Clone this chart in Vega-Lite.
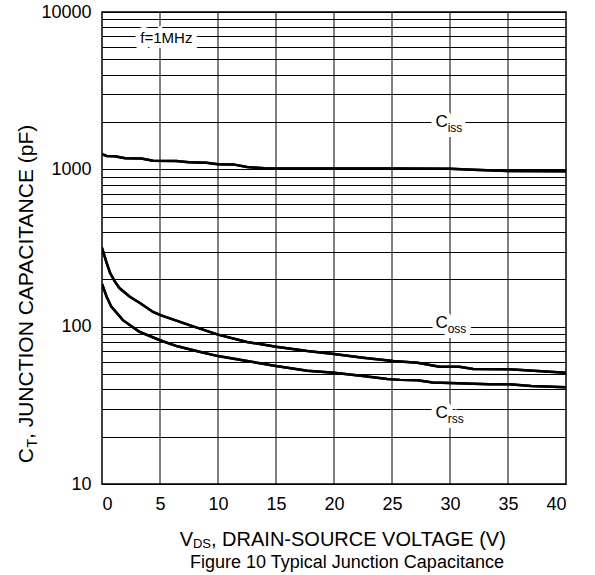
{
  "$schema": "https://vega.github.io/schema/vega-lite/v6.json",
  "width": 464,
  "height": 472,
  "autosize": {"type": "none"},
  "padding": {"left": 102, "top": 12, "right": 29, "bottom": 91},
  "background": "white",
  "config": {
    "font": "Liberation Sans",
    "view": {"stroke": "black", "strokeWidth": 1.5},
    "axis": {"gridColor": "#000000", "gridOpacity": 1, "gridWidth": 1, "ticks": false, "domain": false, "labelColor": "#000000", "labelFont": "Liberation Sans", "labelFontSize": 18, "title": null}
  },
  "datasets": {
    "vgrid": [{"g": 5}, {"g": 10}, {"g": 15}, {"g": 20}, {"g": 25}, {"g": 30}, {"g": 35}],
    "curves": [
      {"series": "Ciss", "V": 0, "C": 1250}, {"series": "Ciss", "V": 0.4, "C": 1215}, {"series": "Ciss", "V": 1.1, "C": 1210},
      {"series": "Ciss", "V": 2, "C": 1175}, {"series": "Ciss", "V": 3.4, "C": 1170}, {"series": "Ciss", "V": 4.4, "C": 1135},
      {"series": "Ciss", "V": 6.4, "C": 1130}, {"series": "Ciss", "V": 7.5, "C": 1110}, {"series": "Ciss", "V": 9, "C": 1100},
      {"series": "Ciss", "V": 10, "C": 1078}, {"series": "Ciss", "V": 11.3, "C": 1075}, {"series": "Ciss", "V": 12.5, "C": 1035},
      {"series": "Ciss", "V": 14, "C": 1015}, {"series": "Ciss", "V": 20, "C": 1012}, {"series": "Ciss", "V": 25, "C": 1012},
      {"series": "Ciss", "V": 30, "C": 1010}, {"series": "Ciss", "V": 32, "C": 995}, {"series": "Ciss", "V": 35, "C": 975},
      {"series": "Ciss", "V": 40, "C": 972},
      {"series": "Coss", "V": 0, "C": 317}, {"series": "Coss", "V": 0.4, "C": 254}, {"series": "Coss", "V": 0.7, "C": 219},
      {"series": "Coss", "V": 1.1, "C": 194}, {"series": "Coss", "V": 1.5, "C": 176}, {"series": "Coss", "V": 2.4, "C": 155},
      {"series": "Coss", "V": 3.3, "C": 141}, {"series": "Coss", "V": 4.4, "C": 124}, {"series": "Coss", "V": 5.1, "C": 118},
      {"series": "Coss", "V": 7.6, "C": 102}, {"series": "Coss", "V": 10, "C": 89}, {"series": "Coss", "V": 12.5, "C": 80},
      {"series": "Coss", "V": 15, "C": 74.5}, {"series": "Coss", "V": 17.7, "C": 70}, {"series": "Coss", "V": 20, "C": 67},
      {"series": "Coss", "V": 22.5, "C": 63.5}, {"series": "Coss", "V": 25.1, "C": 60.5}, {"series": "Coss", "V": 27.2, "C": 59},
      {"series": "Coss", "V": 29.1, "C": 55.7}, {"series": "Coss", "V": 30.8, "C": 55.7}, {"series": "Coss", "V": 32, "C": 53.8},
      {"series": "Coss", "V": 35.1, "C": 53.6}, {"series": "Coss", "V": 40, "C": 51},
      {"series": "Crss", "V": 0, "C": 187}, {"series": "Crss", "V": 0.4, "C": 155}, {"series": "Crss", "V": 0.8, "C": 134},
      {"series": "Crss", "V": 1.8, "C": 110}, {"series": "Crss", "V": 3.2, "C": 93}, {"series": "Crss", "V": 5, "C": 82},
      {"series": "Crss", "V": 6.5, "C": 75}, {"series": "Crss", "V": 8.4, "C": 69.3}, {"series": "Crss", "V": 10, "C": 65},
      {"series": "Crss", "V": 12.5, "C": 60.5}, {"series": "Crss", "V": 15, "C": 56.2}, {"series": "Crss", "V": 17.7, "C": 52.5},
      {"series": "Crss", "V": 20, "C": 51}, {"series": "Crss", "V": 22.5, "C": 48.5}, {"series": "Crss", "V": 24.6, "C": 46.5},
      {"series": "Crss", "V": 25.7, "C": 45.9}, {"series": "Crss", "V": 27.2, "C": 45.6}, {"series": "Crss", "V": 28.5, "C": 44.1},
      {"series": "Crss", "V": 30, "C": 43.8}, {"series": "Crss", "V": 33.4, "C": 43.1}, {"series": "Crss", "V": 35.1, "C": 43.1},
      {"series": "Crss", "V": 37, "C": 42}, {"series": "Crss", "V": 40, "C": 41.2}
    ],
    "labels": [
      {"V": 29.8, "C": 2000, "main": "C", "sub": "iss"},
      {"V": 29.8, "C": 105, "main": "C", "sub": "oss"},
      {"V": 29.8, "C": 28.3, "main": "C", "sub": "rss"}
    ],
    "note": [{"V": 5.55, "C": 6800, "t": "f=1MHz"}]
  },
  "layer": [
    {
      "data": {"name": "curves"},
      "mark": {"type": "line", "color": "black", "strokeWidth": 2.5, "clip": true},
      "encoding": {
        "x": {"field": "V", "type": "quantitative", "scale": {"domain": [0, 40], "nice": false},
              "axis": {"values": [0, 5, 10, 15, 20, 25, 30, 35, 40], "labelPadding": 11, "grid": false}},
        "y": {"field": "C", "type": "quantitative", "scale": {"type": "log", "domain": [10, 10000], "nice": false},
              "axis": {"values": [10, 20, 30, 40, 50, 60, 70, 80, 90, 100, 200, 300, 400, 500, 600, 700, 800, 900, 1000, 2000, 3000, 4000, 5000, 6000, 7000, 8000, 9000, 10000],
                       "labelExpr": "(datum.value == 10 || datum.value == 100 || datum.value == 1000 || datum.value == 10000) ? format(datum.value, 'd') : ''",
                       "labelPadding": 11, "labelOverlap": false, "grid": true}},
        "detail": {"field": "series"}
      }
    },
    {
      "data": {"name": "vgrid"},
      "mark": {"type": "rule", "color": "black", "strokeWidth": 1},
      "encoding": {"x": {"field": "g", "type": "quantitative"}}
    },
    {
      "data": {"name": "curves"},
      "mark": {"type": "line", "color": "black", "strokeWidth": 2.5, "clip": true},
      "encoding": {"x": {"field": "V", "type": "quantitative"}, "y": {"field": "C", "type": "quantitative"}, "detail": {"field": "series"}}
    },
    {
      "data": {"name": "labels"},
      "mark": {"type": "text", "align": "right", "baseline": "middle", "fontSize": 17, "stroke": "white", "strokeWidth": 10, "fill": "white"},
      "encoding": {"x": {"field": "V", "type": "quantitative"}, "y": {"field": "C", "type": "quantitative"}, "text": {"field": "main"}}
    },
    {
      "data": {"name": "labels"},
      "mark": {"type": "text", "align": "left", "baseline": "middle", "fontSize": 12, "dy": 6, "stroke": "white", "strokeWidth": 10, "fill": "white"},
      "encoding": {"x": {"field": "V", "type": "quantitative"}, "y": {"field": "C", "type": "quantitative"}, "text": {"field": "sub"}}
    },
    {
      "data": {"name": "labels"},
      "mark": {"type": "text", "align": "right", "baseline": "middle", "fontSize": 17, "color": "black"},
      "encoding": {"x": {"field": "V", "type": "quantitative"}, "y": {"field": "C", "type": "quantitative"}, "text": {"field": "main"}}
    },
    {
      "data": {"name": "labels"},
      "mark": {"type": "text", "align": "left", "baseline": "middle", "fontSize": 12, "dy": 6, "color": "black"},
      "encoding": {"x": {"field": "V", "type": "quantitative"}, "y": {"field": "C", "type": "quantitative"}, "text": {"field": "sub"}}
    },
    {
      "data": {"name": "note"},
      "mark": {"type": "text", "align": "center", "baseline": "middle", "fontSize": 15, "stroke": "white", "strokeWidth": 10, "fill": "white"},
      "encoding": {"x": {"field": "V", "type": "quantitative"}, "y": {"field": "C", "type": "quantitative"}, "text": {"field": "t"}}
    },
    {
      "data": {"name": "note"},
      "mark": {"type": "text", "align": "center", "baseline": "middle", "fontSize": 15, "color": "black"},
      "encoding": {"x": {"field": "V", "type": "quantitative"}, "y": {"field": "C", "type": "quantitative"}, "text": {"field": "t"}}
    },
    {
      "data": {"values": [{"t": ", DRAIN-SOURCE VOLTAGE (V)"}]},
      "mark": {"type": "text", "align": "left", "baseline": "alphabetic", "fontSize": 20, "color": "black", "dx": 109, "dy": 62},
      "encoding": {"x": {"datum": 0}, "y": {"datum": 10}, "text": {"field": "t"}}
    },
    {
      "data": {"values": [{"t": "DS"}]},
      "mark": {"type": "text", "align": "right", "baseline": "alphabetic", "fontSize": 13, "color": "black", "dx": 109, "dy": 64},
      "encoding": {"x": {"datum": 0}, "y": {"datum": 10}, "text": {"field": "t"}}
    },
    {
      "data": {"values": [{"t": "V"}]},
      "mark": {"type": "text", "align": "right", "baseline": "alphabetic", "fontSize": 20, "color": "black", "dx": 91, "dy": 62},
      "encoding": {"x": {"datum": 0}, "y": {"datum": 10}, "text": {"field": "t"}}
    },
    {
      "data": {"values": [{"t": "Figure 10 Typical Junction Capacitance"}]},
      "mark": {"type": "text", "align": "center", "baseline": "alphabetic", "fontSize": 18, "color": "black", "dx": 13, "dy": 84},
      "encoding": {"x": {"datum": 20}, "y": {"datum": 10}, "text": {"field": "t"}}
    },
    {
      "data": {"values": [{"t": ", JUNCTION CAPACITANCE (pF)"}]},
      "mark": {"type": "text", "align": "left", "baseline": "alphabetic", "angle": 270, "fontSize": 21, "color": "black", "dx": 45, "dy": -69},
      "encoding": {"x": {"datum": 0}, "y": {"datum": 10}, "text": {"field": "t"}}
    },
    {
      "data": {"values": [{"t": "T"}]},
      "mark": {"type": "text", "align": "right", "baseline": "alphabetic", "angle": 270, "fontSize": 14, "color": "black", "dx": 45, "dy": -65},
      "encoding": {"x": {"datum": 0}, "y": {"datum": 10}, "text": {"field": "t"}}
    },
    {
      "data": {"values": [{"t": "C"}]},
      "mark": {"type": "text", "align": "right", "baseline": "alphabetic", "angle": 270, "fontSize": 21, "color": "black", "dx": 36, "dy": -69},
      "encoding": {"x": {"datum": 0}, "y": {"datum": 10}, "text": {"field": "t"}}
    }
  ]
}
